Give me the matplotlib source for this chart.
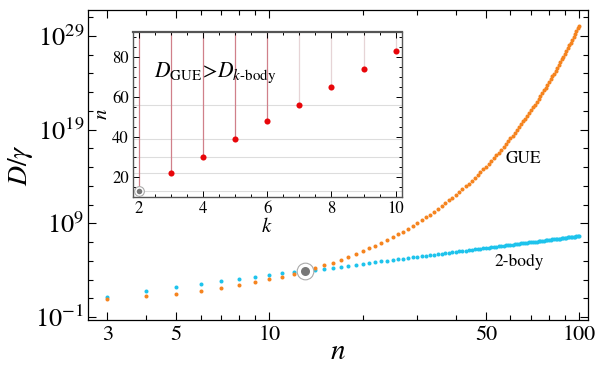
import numpy as np
import matplotlib
matplotlib.use("Agg")
import matplotlib.pyplot as plt
from matplotlib.ticker import FixedLocator, NullFormatter, FixedFormatter

plt.rcParams['font.family'] = ['STIXGeneral', 'DejaVu Serif']
plt.rcParams['mathtext.fontset'] = 'stix'

# main panel: system size n and log10(D/gamma)
n_vals = list(range(3, 101))
gue_log = [0.90, 1.20, 1.51, 1.81, 2.11, 2.41, 2.71, 3.01, 3.31, 3.61,
           3.91, 4.21, 4.52, 4.82, 5.12, 5.42, 5.72, 6.02, 6.32, 6.62,
           6.92, 7.22, 7.53, 7.83, 8.13, 8.43, 8.73, 9.03, 9.33, 9.63,
           9.93, 10.24, 10.54, 10.84, 11.14, 11.44, 11.74, 12.04, 12.34, 12.64,
           12.94, 13.25, 13.55, 13.85, 14.15, 14.45, 14.75, 15.05, 15.35, 15.65,
           15.95, 16.26, 16.56, 16.86, 17.16, 17.46, 17.76, 18.06, 18.36, 18.66,
           18.96, 19.27, 19.57, 19.87, 20.17, 20.47, 20.77, 21.07, 21.37, 21.67,
           21.98, 22.28, 22.58, 22.88, 23.18, 23.48, 23.78, 24.08, 24.38, 24.68,
           24.99, 25.29, 25.59, 25.89, 26.19, 26.49, 26.79, 27.09, 27.39, 27.69,
           28.00, 28.30, 28.60, 28.90, 29.20, 29.50, 29.80, 30.10]
body2_log = [1.15, 1.78, 2.20, 2.52, 2.84, 3.06, 3.30, 3.51, 3.66, 3.77,
             3.88, 4.01, 4.14, 4.26, 4.37, 4.48, 4.58, 4.67, 4.76, 4.85,
             4.93, 5.01, 5.08, 5.16, 5.23, 5.29, 5.36, 5.42, 5.48, 5.54,
             5.60, 5.65, 5.70, 5.76, 5.81, 5.86, 5.90, 5.95, 6.00, 6.04,
             6.08, 6.13, 6.17, 6.21, 6.25, 6.29, 6.33, 6.36, 6.40, 6.44,
             6.47, 6.50, 6.54, 6.57, 6.60, 6.64, 6.67, 6.70, 6.73, 6.76,
             6.79, 6.82, 6.85, 6.87, 6.90, 6.93, 6.96, 6.98, 7.01, 7.04,
             7.06, 7.09, 7.11, 7.14, 7.16, 7.18, 7.21, 7.23, 7.25, 7.28,
             7.30, 7.32, 7.34, 7.36, 7.38, 7.41, 7.43, 7.45, 7.47, 7.49,
             7.51, 7.53, 7.55, 7.57, 7.59, 7.60, 7.62, 7.64]
cross_n = 13
cross_log = 3.91

# inset: crossover size n for k-body
k_vals = [3, 4, 5, 6, 7, 8, 9, 10]
k_cross = [22, 30, 39, 48, 56, 65, 74, 83]
k2_cross = 13
inset_hlines = [13, 22, 30, 39, 56]

orange = '#F5841F'
cyan = '#1EC3EC'
red = '#E8060A'

fig = plt.figure(figsize=(5.96, 3.70), dpi=100)
ax = fig.add_axes([0.148, 0.135, 0.839, 0.838])

ax.plot(n_vals, 10.0 ** np.array(body2_log), 'o', color=cyan, ms=2.9, mew=0, zorder=3)
ax.plot(n_vals, 10.0 ** np.array(gue_log), 'o', color=orange, ms=2.9, mew=0, zorder=3)
ax.plot([cross_n], [10 ** cross_log], 'o', ms=12, mfc='white', mec='#aaaaaa', mew=0.8, zorder=4)
ax.plot([cross_n], [10 ** cross_log], 'o', ms=6.5, color='#777777', mew=0, zorder=5)

ax.set_xscale('log')
ax.set_yscale('log')
ax.set_xlim(2.6, 107)
ax.set_ylim(10 ** -1.32, 10 ** 31.77)

ax.xaxis.set_major_locator(FixedLocator([3, 5, 10, 50, 100]))
ax.xaxis.set_major_formatter(FixedFormatter(['3', '5', '10', '50', '100']))
ax.xaxis.set_minor_locator(FixedLocator([4, 6, 7, 8, 9, 20, 30, 40, 60, 70, 80, 90]))
ax.xaxis.set_minor_formatter(NullFormatter())
ax.yaxis.set_major_locator(FixedLocator([1e-1, 1e9, 1e19, 1e29]))
ax.yaxis.set_major_formatter(FixedFormatter([r'$10^{-1}$', r'$10^{9}$', r'$10^{19}$', r'$10^{29}$']))
ax.yaxis.set_minor_locator(FixedLocator([10.0 ** e for e in range(-1, 32, 2)]))
ax.yaxis.set_minor_formatter(NullFormatter())
ax.tick_params(which='both', direction='in', top=True, right=True, width=0.8)
ax.tick_params(which='major', length=6)
ax.tick_params(which='minor', length=3.5)
ax.tick_params(axis='x', labelsize=16, pad=4)
ax.tick_params(axis='y', labelsize=19, pad=3)
for s in ax.spines.values():
    s.set_linewidth(0.9)

ax.set_xlabel(r'$n$', fontsize=21, labelpad=-4)
ax.set_ylabel(r'$D/\gamma$', fontsize=20, labelpad=0)

ax.text(66, 10 ** 15.9, 'GUE', fontsize=12.5, ha='center', va='center')
ax.text(64, 10 ** 4.85, '2-body', fontsize=12.5, ha='center', va='center')

# inset
ins = fig.add_axes([0.223, 0.468, 0.451, 0.4455])
for k, n in zip([2] + k_vals, [k2_cross] + k_cross):
    c = '#d0808a' if k <= 6 else '#e6d4d6'
    ins.plot([k, k], [n, 100], color=c, lw=0.9, zorder=1)
for h in inset_hlines:
    ins.axhline(h, color='#dddddd', lw=0.8, zorder=0)
ins.plot(k_vals, k_cross, 'o', color=red, ms=4.4, mew=0, zorder=3)
ins.plot([2], [k2_cross], 'o', ms=7, mfc='white', mec='#aaaaaa', mew=0.8, zorder=3)
ins.plot([2], [k2_cross], 'o', ms=4, color='#777777', mew=0, zorder=4)

ins.set_xlim(1.81, 10.19)
ins.set_ylim(10, 92.5)
ins.xaxis.set_major_locator(FixedLocator([2, 4, 6, 8, 10]))
ins.xaxis.set_minor_locator(FixedLocator(list(np.arange(2, 10.01, 0.5))))
ins.yaxis.set_major_locator(FixedLocator([20, 40, 60, 80]))
ins.yaxis.set_minor_locator(FixedLocator(list(range(10, 95, 5))))
ins.tick_params(which='both', direction='in', top=True, right=True, width=0.7)
ins.tick_params(which='major', length=4)
ins.tick_params(which='minor', length=2)
ins.tick_params(labelsize=12, pad=3)
for s in ins.spines.values():
    s.set_linewidth(1.0)
    s.set_color('#555555')
ins.spines['top'].set_linewidth(1.6)
ins.set_xlabel(r'$k$', fontsize=15, labelpad=0)
ins.set_ylabel(r'$n$', fontsize=15, labelpad=0)
ins.text(4.37, 72, r'$D_{\mathrm{GUE}}\!>\!D_{k\text{-body}}$', fontsize=15.5,
         ha='center', va='center')

fig.savefig('out.png', dpi=100)
